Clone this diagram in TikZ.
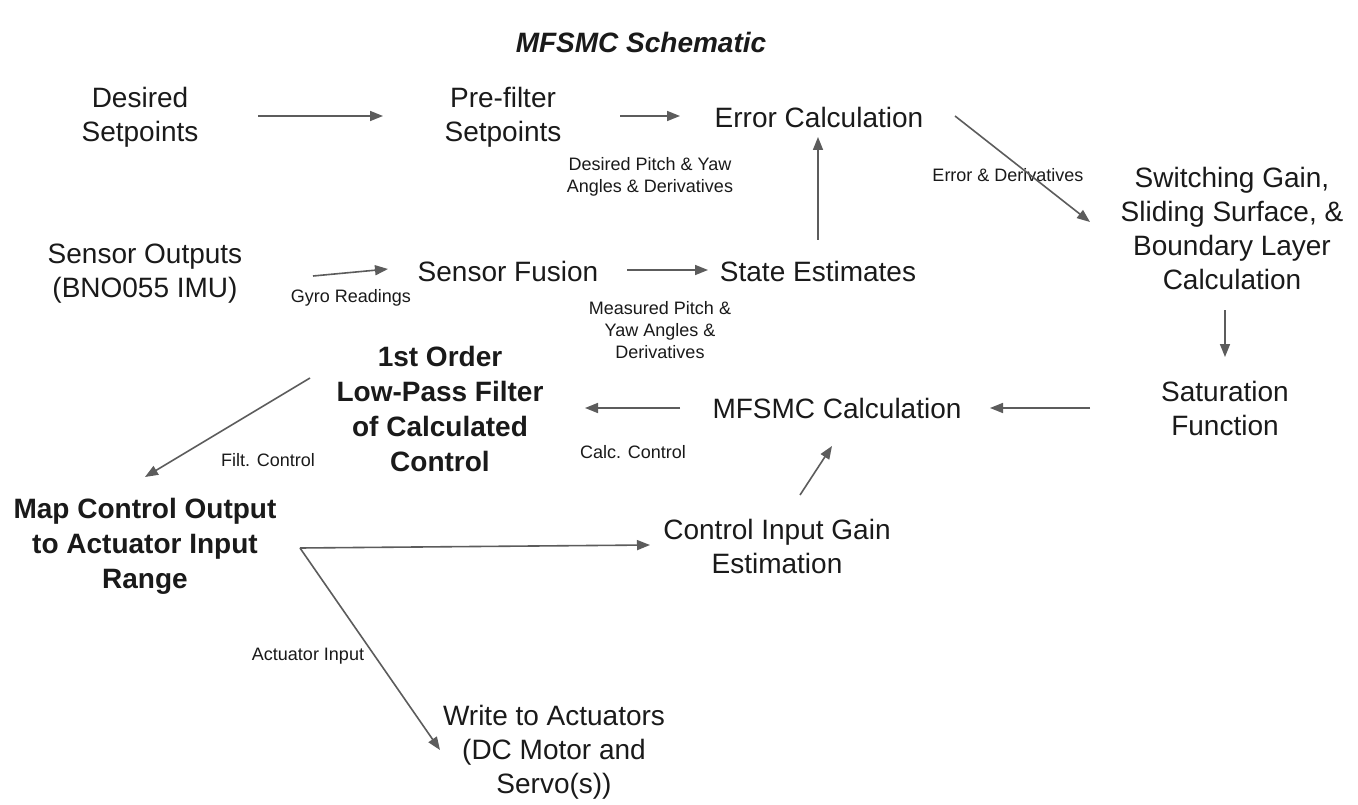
\documentclass[tikz,border=0pt]{standalone}
\usepackage{fontspec}
\setmainfont{Liberation Sans}
\usetikzlibrary{arrows.meta}
\definecolor{tc}{HTML}{1A1A1A}
\definecolor{ac}{HTML}{5C5C5C}
\begin{document}
\begin{tikzpicture}[x=1pt,y=-1pt,
  txt/.style={font=\fontsize{28}{34}\selectfont, align=center, inner sep=0pt, text=tc},
  btxt/.style={font=\fontsize{28}{35}\selectfont\bfseries, align=center, inner sep=0pt, text=tc},
  lbl/.style={font=\fontsize{18}{22}\selectfont, align=center, inner sep=0pt, text=tc},
  arr/.style={draw=ac, line width=1.6pt, -{Triangle[length=13pt,width=10pt]}}]
\useasboundingbox (0,0) rectangle (1358,805);
\fill[white] (0,0) rectangle (1358,805);

\node[font=\fontsize{28}{34}\selectfont\bfseries\itshape, text=tc, inner sep=0pt] (title) at (641,42) {MFSMC Schematic};

\node[txt] (ds) at (140,117) {Desired\\Setpoints};
\node[txt] (pf) at (503,117) {Pre-filter\\Setpoints};
\node[txt] (err) at (819,117) {Error Calculation};
\node[lbl] (l1) at (650,177) {Desired Pitch \& Yaw\\Angles \& Derivatives};
\node[lbl] (l2) at (1008,175) {Error \& Derivatives};
\node[txt] (sw) at (1232,228) {Switching Gain,\\Sliding Surface, \&\\Boundary Layer\\Calculation};
\node[txt] (so) at (145,274) {Sensor Outputs\\(BNO055 IMU)};
\node[lbl] (gyro) at (351,298) {Gyro Readings};
\node[txt] (sf) at (508,271) {Sensor Fusion};
\node[txt] (se) at (818,271) {State Estimates};
\node[lbl] (meas) at (660,330) {Measured Pitch \&\\Yaw Angles \&\\Derivatives};
\node[btxt] (lp) at (440,409) {1st Order\\Low-Pass Filter\\of Calculated\\Control};
\node[txt] (mf) at (837,408) {MFSMC Calculation};
\node[txt] (sat) at (1225,408) {Saturation\\Function};
\node[lbl] (calc) at (633,452) {Calc. Control};
\node[lbl] (filt) at (268,460) {Filt. Control};
\node[btxt] (map) at (145,546) {Map Control Output\\to Actuator Input\\Range};
\node[txt] (cig) at (777,546) {Control Input Gain\\Estimation};
\node[lbl] (act) at (308,656) {Actuator Input};
\node[txt] (wr) at (554,752) {Write to Actuators\\(DC Motor and\\Servo(s))};

\draw[arr] ([shift={(118,-1)}]ds.center) -- ([shift={(-120,-1)}]pf.center);
\draw[arr] ([shift={(117,-1)}]pf.center) -- ([shift={(-139,-1)}]err.center);
\draw[arr] ([shift={(136,-1)}]err.center) -- ([shift={(-142,-6)}]sw.center);
\draw[arr] ([shift={(0,-31)}]se.center) -- ([shift={(-1,20)}]err.center);
\draw[arr] ([shift={(-7,82)}]sw.center) -- ([shift={(0,-51)}]sat.center);
\draw[arr] ([shift={(-135,0)}]sat.center) -- ([shift={(153,0)}]mf.center);
\draw[arr] ([shift={(-157,0)}]mf.center) -- ([shift={(145,-1)}]lp.center);
\draw[arr] ([shift={(-130,-31)}]lp.center) -- ([shift={(0,-69)}]map.center);
\draw[arr] ([shift={(155,2)}]map.center) -- ([shift={(-127,-1)}]cig.center);
\draw[arr] ([shift={(155,2)}]map.center) -- ([shift={(-114,-2)}]wr.center);
\draw[arr] ([shift={(23,-51)}]cig.center) -- ([shift={(-5,38)}]mf.center);
\draw[arr] ([shift={(168,2)}]so.center) -- ([shift={(-120,-2)}]sf.center);
\draw[arr] ([shift={(119,-1)}]sf.center) -- ([shift={(-110,-1)}]se.center);
\end{tikzpicture}
\end{document}
